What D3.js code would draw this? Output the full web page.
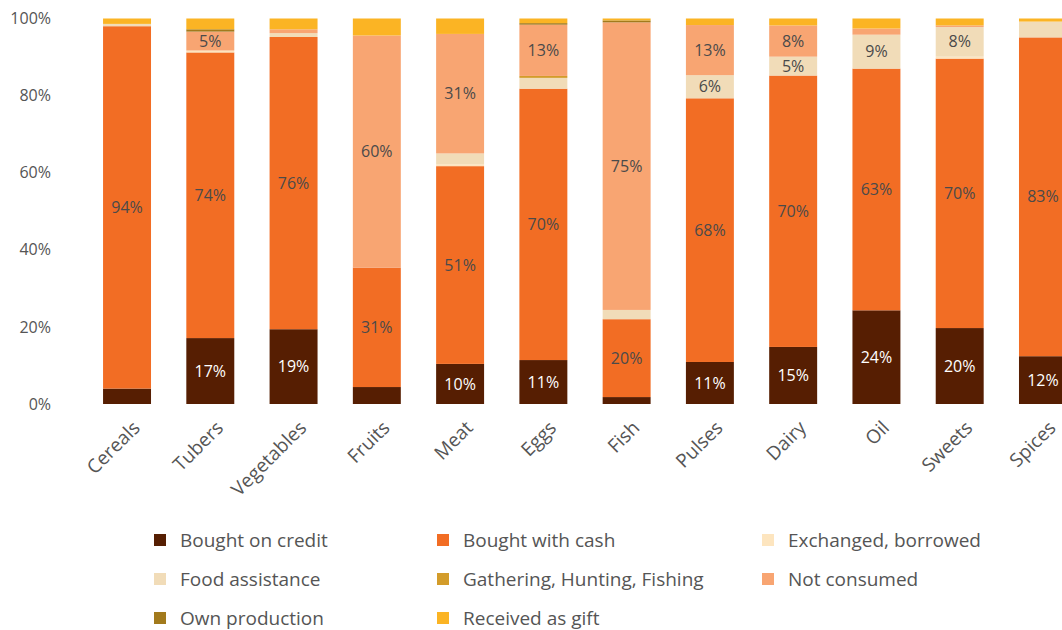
<!DOCTYPE html>
<html>
<head>
<meta charset="utf-8">
<script src="https://cdn.jsdelivr.net/npm/d3@7/dist/d3.min.js"></script>
<style>
  html, body { margin: 0; padding: 0; background: #ffffff; }
  svg { display: block; font-family: "Open Sans", "Noto Sans", sans-serif; }
</style>
</head>
<body>
<svg id="chart" width="1062" height="630"></svg>
<script>
const categories = ["Cereals", "Tubers", "Vegetables", "Fruits", "Meat", "Eggs", "Fish", "Pulses", "Dairy", "Oil", "Sweets", "Spices"];
const seriesNames = ["Bought on credit", "Bought with cash", "Exchanged, borrowed", "Food assistance", "Gathering, Hunting, Fishing", "Not consumed", "Own production", "Received as gift"];
const seriesColors = ["#561e02", "#f26d24", "#fde5bf", "#f1dcb8", "#d39c2a", "#f8a572", "#a27a1c", "#fbb424"];

// values in percent, per series, in category order
const boughtOnCredit   = [4.0, 17.1, 19.4, 4.4, 10.4, 11.4, 1.8, 10.9, 14.8, 24.3, 19.7, 12.4];
const boughtWithCash   = [94.0, 74.1, 75.8, 31.0, 51.3, 70.4, 20.2, 68.4, 70.4, 62.7, 69.9, 82.7];
const exchanged        = [0, 0.5, 0, 0, 0.5, 0, 0, 0, 0, 0, 0.5, 0];
const foodAssistance   = [0.6, 0, 1.0, 0, 2.8, 2.8, 2.4, 6.0, 4.9, 8.8, 7.7, 4.1];
const gathering        = [0, 0, 0, 0, 0, 0.5, 0, 0, 0, 0, 0, 0];
const notConsumed      = [0, 4.9, 1.0, 60.2, 31.0, 13.3, 74.6, 13.0, 8.1, 1.6, 0.4, 0];
const ownProduction    = [0, 0.6, 0, 0, 0, 0.4, 0.5, 0, 0, 0, 0, 0];
const receivedAsGift   = [1.4, 2.8, 2.8, 4.4, 4.0, 1.2, 0.5, 1.7, 1.8, 2.6, 1.8, 0.8];

const seriesValues = [boughtOnCredit, boughtWithCash, exchanged, foodAssistance, gathering, notConsumed, ownProduction, receivedAsGift];
const yTicks = [0, 20, 40, 60, 80, 100];

const svg = d3.select("#chart");

const table = categories.map((c, i) => {
  const row = { category: c };
  seriesNames.forEach((s, k) => { row[s] = seriesValues[k][i]; });
  return row;
});

const stacked = d3.stack().keys(seriesNames)(table);

const x = d3.scaleBand()
  .domain(categories)
  .range([85.4, 1084.6])
  .paddingInner(0.424)
  .paddingOuter(0.212);

const y = d3.scaleLinear().domain([0, 100]).range([404, 18.5]);

const color = d3.scaleOrdinal().domain(seriesNames).range(seriesColors);

// y axis
const yAxis = d3.axisLeft(y).tickValues(yTicks).tickFormat(d => d + "%").tickSize(0).tickPadding(0);
const yg = svg.append("g").attr("transform", "translate(51,0)").call(yAxis);
yg.select(".domain").remove();
yg.selectAll("text").attr("fill", "#555").style("font-size", "16px").style("font-family", "'Open Sans', sans-serif");

// bars
const layers = svg.append("g").selectAll("g")
  .data(stacked)
  .join("g")
  .attr("fill", d => color(d.key));

layers.selectAll("rect")
  .data(d => d.map(v => Object.assign(v, { key: d.key })))
  .join("rect")
  .attr("x", d => x(d.data.category))
  .attr("width", x.bandwidth())
  .attr("y", d => y(d[1]))
  .attr("height", d => Math.max(0, y(d[0]) - y(d[1])));

// data labels
const labels = svg.append("g");
stacked.forEach(layer => {
  layer.forEach(d => {
    const v = d[1] - d[0];
    if (Math.round(v) >= 5) {
      labels.append("text")
        .attr("x", x(d.data.category) + x.bandwidth() / 2)
        .attr("y", (y(d[0]) + y(d[1])) / 2)
        .attr("dy", "0.35em")
        .attr("text-anchor", "middle")
        .attr("fill", layer.key === "Bought on credit" ? "#ffffff" : "#4a4a4a")
        .style("font-size", "16px")
        .text(Math.round(v) + "%");
    }
  });
});

// x axis labels
const xAxis = d3.axisBottom(x).tickSize(0).tickPadding(0);
const xg = svg.append("g").attr("transform", "translate(0,404)").call(xAxis);
xg.select(".domain").remove();
xg.selectAll("text")
  .attr("fill", "#555")
  .attr("text-anchor", "end")
  .attr("dy", 0)
  .attr("y", 0)
  .attr("transform", "translate(14,25) rotate(-45)")
  .style("font-size", "19px")
  .style("font-family", "'Open Sans', sans-serif");

// legend
const legendCols = [154, 437, 762];
const legendRows = [540, 579, 618];
const legend = svg.append("g");
seriesNames.forEach((s, i) => {
  const cx = legendCols[i % 3];
  const cy = legendRows[Math.floor(i / 3)];
  legend.append("rect")
    .attr("x", cx).attr("y", cy - 6).attr("width", 12).attr("height", 12)
    .attr("fill", color(s));
  legend.append("text")
    .attr("x", cx + 26).attr("y", cy).attr("dy", "0.35em")
    .attr("fill", "#555")
    .style("font-size", "19px")
    .text(s);
});
</script>
</body>
</html>
